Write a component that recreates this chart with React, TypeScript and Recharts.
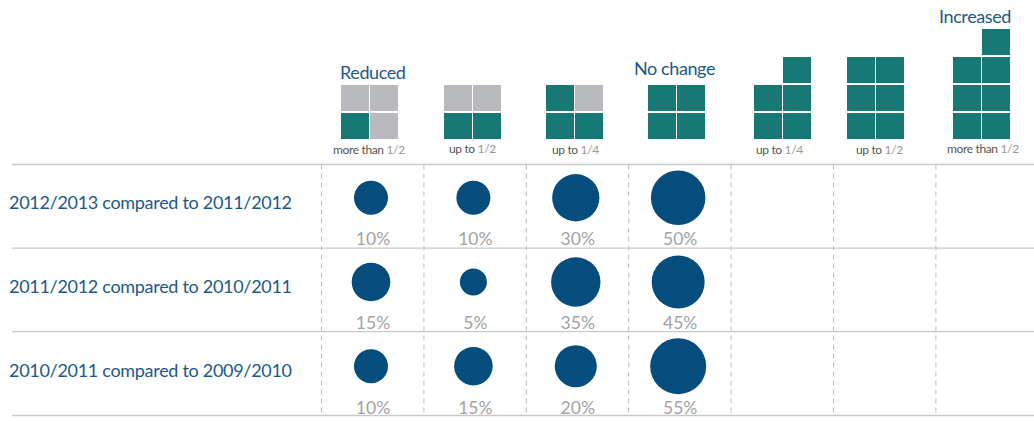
import { BarChart, Bar, XAxis, YAxis, ZAxis, Scatter, ScatterChart, CartesianGrid, LabelList } from "recharts";

const FONT = "Lato, 'Open Sans', sans-serif";
const BLUE = "#054d7d";
const TEXT_BLUE = "#1b5a87";
const TEAL = "#177876";
const GREY = "#b9babd";
const LINE = "#c9c9c9";

const rowLabels = [
  "2012/2013 compared to 2011/2012",
  "2011/2012 compared to 2010/2011",
  "2010/2011 compared to 2009/2010",
];
// share of answers per column, one list per row
const row2013 = [10, 10, 30, 50];
const row2012 = [15, 5, 35, 45];
const row2011 = [10, 15, 20, 55];
const rows = [row2013, row2012, row2011];

const sides = ["left", "right"];
// squares per icon: [left stack, right stack]
const tealSquares = [[1, 0], [1, 1], [2, 1], [2, 2], [2, 3], [3, 3], [3, 4]];
const greySquares = [[1, 2], [1, 1], [0, 1], [0, 0], [0, 0], [0, 0], [0, 0]];
const levels = [0, 1, 2, 3];
const iconLefts = [341, 444, 546, 648, 754, 847, 953];

const captions = [
  { a: "more than", b: "1/2", x: 333, y: 142 },
  { a: "up to", b: "1/2", x: 449, y: 141 },
  { a: "up to", b: "1/4", x: 552, y: 142 },
  { a: "up to", b: "1/4", x: 756, y: 142 },
  { a: "up to", b: "1/2", x: 856, y: 142 },
  { a: "more than", b: "1/2", x: 947, y: 141 },
];
const headings = [
  { text: "Reduced", x: 340, y: 60 },
  { text: "No change", x: 634, y: 56 },
  { text: "Increased", x: 939, y: 4 },
];

const points = rows.flatMap((values, row) => values.map((share, col) => ({ col, row, share })));

const columnEdges = [-0.483, 0.517, 1.517, 2.517, 3.517, 4.517, 5.517];
const rowEdges = [-0.395, 0.597, 1.59, 2.585];

const RowTick = ({ payload }: any) => (
  <text x={9} y={payload.coordinate + 11} fontSize={18} letterSpacing={-0.3} fontFamily={FONT} fill={TEXT_BLUE}>
    {rowLabels[payload.value]}
  </text>
);

const ShareLabel = ({ x, y, width, height, value }: any) => (
  <text
    x={x + width / 2 + 2}
    y={y + height / 2 + 47.5}
    textAnchor="middle"
    fontSize={17.5}
    fontFamily={FONT}
    fill="#a3a3a3"
  >
    {value}%
  </text>
);

const Square = ({ x, y, width, height, fill }: any) =>
  height > 0 ? <rect x={x} y={y} width={width - 1} height={height - 2} fill={fill} /> : null;

const Icon = ({ index }: { index: number }) => {
  const data = sides.map((side, i) => {
    const row: Record<string, any> = { side };
    levels.forEach((k) => {
      row[`teal${k}`] = tealSquares[index][i] > k ? 1 : 0;
      row[`grey${k}`] = greySquares[index][i] > k ? 1 : 0;
    });
    return row;
  });
  return (
    <div style={{ position: "absolute", left: iconLefts[index], top: 29 }}>
      <BarChart width={58} height={112} data={data} margin={{ top: 0, right: 0, bottom: 0, left: 0 }} barCategoryGap={0}>
        <XAxis dataKey="side" hide />
        <YAxis hide domain={[0, 4]} />
        {levels.map((k) => (
          <Bar key={`t${k}`} dataKey={`teal${k}`} stackId="a" fill={TEAL} shape={Square} isAnimationActive={false} />
        ))}
        {levels.map((k) => (
          <Bar key={`g${k}`} dataKey={`grey${k}`} stackId="a" fill={GREY} shape={Square} isAnimationActive={false} />
        ))}
      </BarChart>
    </div>
  );
};

const App = () => (
  <div style={{ position: "absolute", left: 0, top: 0, width: 1034, height: 421, fontFamily: FONT, background: "#fff" }}>
    <ScatterChart width={1034} height={421} margin={{ top: 164.5, right: 0, bottom: 5.5, left: 11 }}>
      <CartesianGrid vertical={false} horizontalValues={rowEdges} stroke={LINE} strokeWidth={1.3} />
      <CartesianGrid horizontal={false} verticalValues={columnEdges} stroke="#bdbdbd" strokeDasharray="5 4" />
      <XAxis type="number" dataKey="col" hide domain={[-3.506, 6.475]} allowDataOverflow />
      <YAxis
        type="number"
        dataKey="row"
        reversed
        domain={[-0.395, 2.585]}
        ticks={[0, 1, 2]}
        interval={0}
        allowDataOverflow
        width={1}
        axisLine={false}
        tickLine={false}
        tick={RowTick}
      />
      <ZAxis type="number" dataKey="share" domain={[5, 55]} scale="sqrt" range={[572, 2463]} />
      <Scatter data={points} fill={BLUE} isAnimationActive={false}>
        <LabelList dataKey="share" content={ShareLabel} />
      </Scatter>
    </ScatterChart>
    {iconLefts.map((_, i) => (
      <Icon key={i} index={i} />
    ))}
    {headings.map((h) => (
      <div key={h.text} style={{ position: "absolute", left: h.x, top: h.y, fontSize: 18, letterSpacing: -0.4, lineHeight: "24px", color: TEXT_BLUE, whiteSpace: "nowrap" }}>
        {h.text}
      </div>
    ))}
    {captions.map((c) => (
      <div key={c.x} style={{ position: "absolute", left: c.x, top: c.y, fontSize: 12, letterSpacing: -0.35, lineHeight: "16px", color: "#555", whiteSpace: "nowrap" }}>
        {c.a} <span style={{ color: "#999" }}>{c.b}</span>
      </div>
    ))}
  </div>
);

export default App;
